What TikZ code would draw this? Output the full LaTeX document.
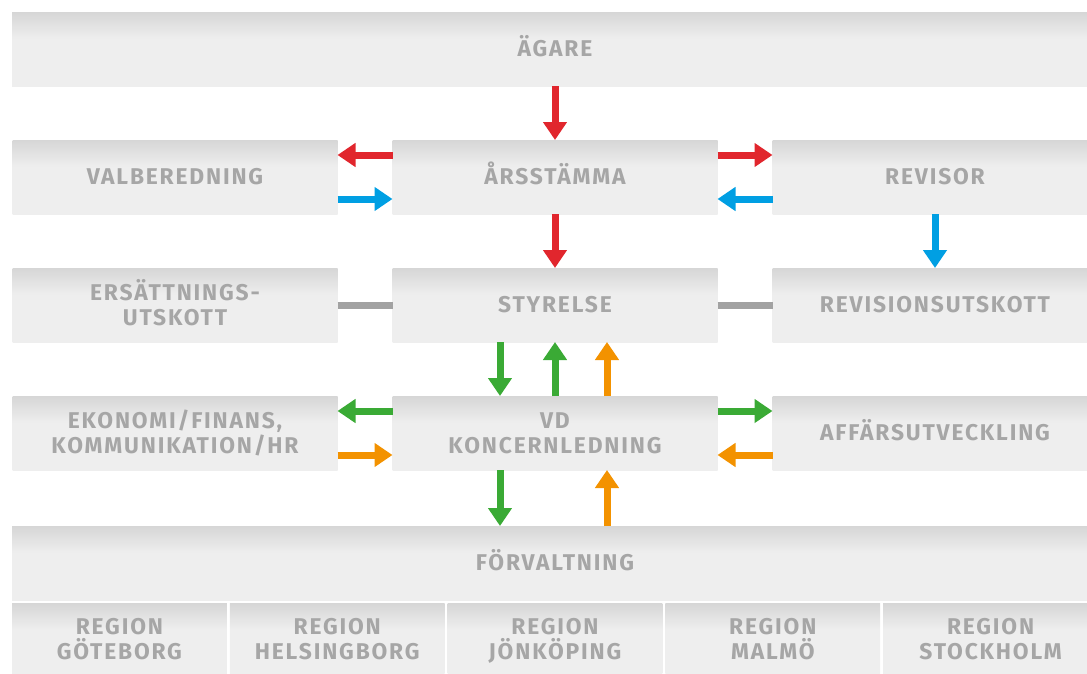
\documentclass[tikz,border=0pt]{standalone}
\usepackage{fontspec}
\newfontfamily\boxfont[LetterSpace=8]{Fira Sans}
\usetikzlibrary{arrows.meta,positioning}

\definecolor{boxfill}{HTML}{EEEEEE}
\definecolor{boxtop}{HTML}{D6D6D6}
\definecolor{textgray}{HTML}{A6A6A6}
\definecolor{arrred}{HTML}{E1262D}
\definecolor{arrblue}{HTML}{009FE3}
\definecolor{arrgreen}{HTML}{3AAA35}
\definecolor{arrorange}{HTML}{F39200}
\definecolor{linegray}{HTML}{A2A2A2}

\pgfdeclareverticalshading{boxshade}{100bp}{color(0bp)=(boxfill); color(25bp)=(boxfill); color(57bp)=(boxfill); color(75bp)=(boxtop); color(100bp)=(boxtop)}

\begin{document}
\begin{tikzpicture}[x=1pt,y=-1pt,
	box/.style={shade,shading=boxshade,minimum width=325pt,minimum height=74pt,inner sep=0pt,outer sep=0pt,align=center,text=textgray,text height=15.5pt,text depth=0pt,font=\boxfont\fontsize{22.8}{25}\selectfont\bfseries},
	twoline/.style={text height=40.5pt},
	regionbox/.style={box,twoline,minimum width=214.8pt,minimum height=73pt},
	arr/.style={line width=7pt,-{Triangle[width=23pt,length=18pt]}},
	link/.style={line width=7pt,linegray}]

\useasboundingbox (0,0) rectangle (1087,673);
\clip (0,0) rectangle (1087,673);

\node[box,minimum width=1086pt]	(agare) at (555,49)		{ÄGARE};
\node[box]	(arsstamma)	[below=54pt of agare]		{ÅRSSTÄMMA};
\node[box]	(valberedning)	[left=55pt of arsstamma]	{VALBEREDNING};
\node[box]	(revisor)	[right=55pt of arsstamma]	{REVISOR};
\node[box]	(styrelse)	[below=54pt of arsstamma]	{STYRELSE};
\node[box,twoline]	(ersattning)	[left=55pt of styrelse]	{ERSÄTTNINGS-\\UTSKOTT};
\node[box]	(revutskott)	[right=55pt of styrelse]	{REVISIONSUTSKOTT};
\node[box,twoline]	(vd)	[below=54pt of styrelse]	{VD\\KONCERNLEDNING};
\node[box,twoline]	(ekonomi)	[left=55pt of vd]	{EKONOMI/FINANS,\\KOMMUNIKATION/HR};
\node[box]	(affar)		[right=55pt of vd]		{AFFÄRSUTVECKLING};
\node[box,minimum width=1086pt]	(forvaltning)	[below=56pt of vd]	{FÖRVALTNING};

\node[regionbox,anchor=north west]	(goteborg) at ([yshift=-3pt]forvaltning.south west)	{REGION\\GÖTEBORG};
\node[regionbox]	(helsingborg)	[right=3pt of goteborg]		{REGION\\HELSINGBORG};
\node[regionbox]	(jonkoping)	[right=3pt of helsingborg]	{REGION\\JÖNKÖPING};
\node[regionbox]	(malmo)		[right=3pt of jonkoping]	{REGION\\MALMÖ};
\node[regionbox]	(stockholm)	[right=3pt of malmo]		{REGION\\STOCKHOLM};

% stämma
\draw[arr,arrred] (agare.south -| arsstamma.north) -- (arsstamma.north);
\draw[arr,arrred] ([yshift=22pt]arsstamma.west) -- ([yshift=22pt]valberedning.east);
\draw[arr,arrblue] ([yshift=-22pt]valberedning.east) -- ([yshift=-22pt]arsstamma.west);
\draw[arr,arrred] ([yshift=22pt]arsstamma.east) -- ([yshift=22pt]revisor.west);
\draw[arr,arrblue] ([yshift=-22pt]revisor.west) -- ([yshift=-22pt]arsstamma.east);
\draw[arr,arrred] (arsstamma) -- (styrelse);
\draw[arr,arrblue] (revisor) -- (revutskott);

% styrelse
\draw[link] (ersattning.east) -- (styrelse.west);
\draw[link] (styrelse.east) -- (revutskott.west);
\draw[arr,arrgreen] ([xshift=-55pt]styrelse.south) -- ([xshift=-55pt]vd.north);
\draw[arr,arrgreen] (vd.north) -- (styrelse.south);
\draw[arr,arrorange] ([xshift=52pt]vd.north) -- ([xshift=52pt]styrelse.south);

% vd
\draw[arr,arrgreen] ([yshift=22pt]vd.west) -- ([yshift=22pt]ekonomi.east);
\draw[arr,arrorange] ([yshift=-22pt]ekonomi.east) -- ([yshift=-22pt]vd.west);
\draw[arr,arrgreen] ([yshift=22pt]vd.east) -- ([yshift=22pt]affar.west);
\draw[arr,arrorange] ([yshift=-22pt]affar.west) -- ([yshift=-22pt]vd.east);
\draw[arr,arrgreen] ([xshift=-55pt]vd.south) -- ([xshift=-55pt]vd.south |- forvaltning.north);
\draw[arr,arrorange] ([xshift=52pt]vd.south |- forvaltning.north) -- ([xshift=52pt]vd.south);
\end{tikzpicture}
\end{document}
